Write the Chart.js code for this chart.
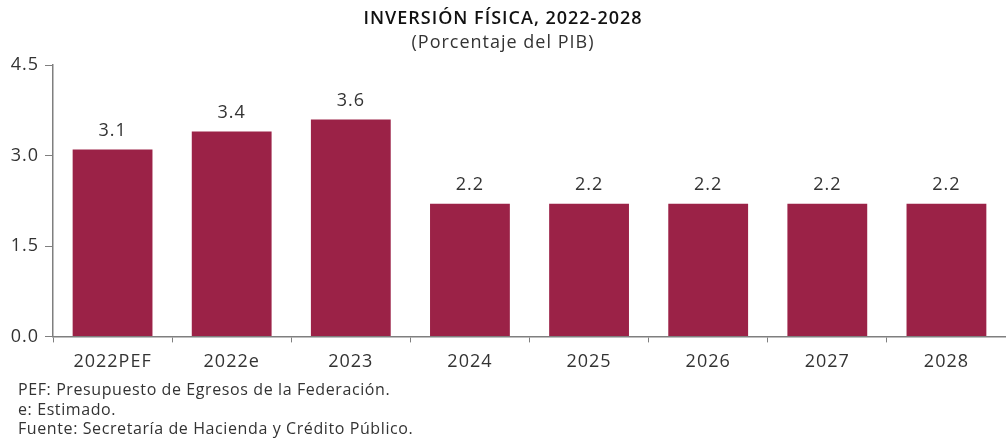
<!DOCTYPE html>
<html>
<head>
<meta charset="utf-8">
<script src="https://cdn.jsdelivr.net/npm/chart.js@4"></script>
<style>
  html, body { margin: 0; padding: 0; background: #fff; }
  .wrap { position: relative; width: 1006px; height: 441px; }
  .notes {
    position: absolute; left: 18px; top: 380px;
    font-family: "Open Sans", sans-serif; font-size: 16px; line-height: 19.5px;
    letter-spacing: 0.6px; color: #333;
  }
</style>
</head>
<body>
<div class="wrap">
  <canvas id="chart" width="1006" height="441"></canvas>
  <div class="notes">
    PEF: Presupuesto de Egresos de la Federación.<br>
    e: Estimado.<br>
    Fuente: Secretaría de Hacienda y Crédito Público.
  </div>
</div>
<script>
// Data
const years = ['2022PEF', '2022e', '2023', '2024', '2025', '2026', '2027', '2028'];
const inversion = [3.1, 3.4, 3.6, 2.2, 2.2, 2.2, 2.2, 2.2];
const yTicks = [0, 1.5, 3.0, 4.5];

const barColor = '#9B2247';
const textColor = '#333333';
const axisColor = '#7f7f7f';
const font = '"Open Sans", sans-serif';

// wider letters, closer to the original typeface
const spacing = {
  id: 'spacing',
  beforeDraw(chart) {
    chart.ctx.letterSpacing = '1px';
  }
};

// Labels above bars
const valueLabels = {
  id: 'valueLabels',
  afterDatasetsDraw(chart) {
    const ctx = chart.ctx;
    const meta = chart.getDatasetMeta(0);
    ctx.save();
    ctx.font = '18px ' + font;
    ctx.fillStyle = textColor;
    ctx.textAlign = 'center';
    ctx.textBaseline = 'bottom';
    meta.data.forEach((bar, i) => {
      ctx.fillText(inversion[i].toFixed(1), bar.x, bar.y - 10);
    });
    ctx.restore();
  }
};

const ctx = document.getElementById('chart').getContext('2d');
new Chart(ctx, {
  type: 'bar',
  data: {
    labels: years,
    datasets: [{
      data: inversion,
      backgroundColor: barColor,
      borderWidth: 0,
      categoryPercentage: 1,
      barPercentage: 0.67
    }]
  },
  plugins: [spacing, valueLabels],
  options: {
    responsive: false,
    animation: false,
    layout: {
      padding: { left: 0, right: 0, top: 0, bottom: 59 }
    },
    plugins: {
      legend: { display: false },
      tooltip: { enabled: false },
      title: {
        display: true,
        text: 'INVERSIÓN FÍSICA, 2022-2028',
        color: '#111',
        font: { family: font, size: 18, weight: '600' },
        padding: { top: 8, bottom: 2 }
      },
      subtitle: {
        display: true,
        text: '(Porcentaje del PIB)',
        color: textColor,
        font: { family: font, size: 18 },
        padding: { bottom: 12 }
      }
    },
    scales: {
      x: {
        grid: {
          display: true,
          drawOnChartArea: false,
          offset: true,
          tickLength: 6,
          color: axisColor
        },
        border: { color: axisColor, width: 1.5 },
        ticks: {
          color: textColor,
          font: { family: font, size: 18 },
          padding: 9
        }
      },
      y: {
        min: 0,
        max: 4.5,
        afterBuildTicks: axis => {
          axis.ticks = yTicks.map(v => ({ value: v }));
        },
        afterFit: axis => { axis.width = 53; },
        grid: {
          drawOnChartArea: false,
          tickLength: 8,
          color: axisColor
        },
        border: { color: axisColor, width: 1.5 },
        ticks: {
          color: textColor,
          font: { family: font, size: 18 },
          padding: 6,
          callback: v => Number(v).toFixed(1)
        }
      }
    }
  }
});
</script>
</body>
</html>
